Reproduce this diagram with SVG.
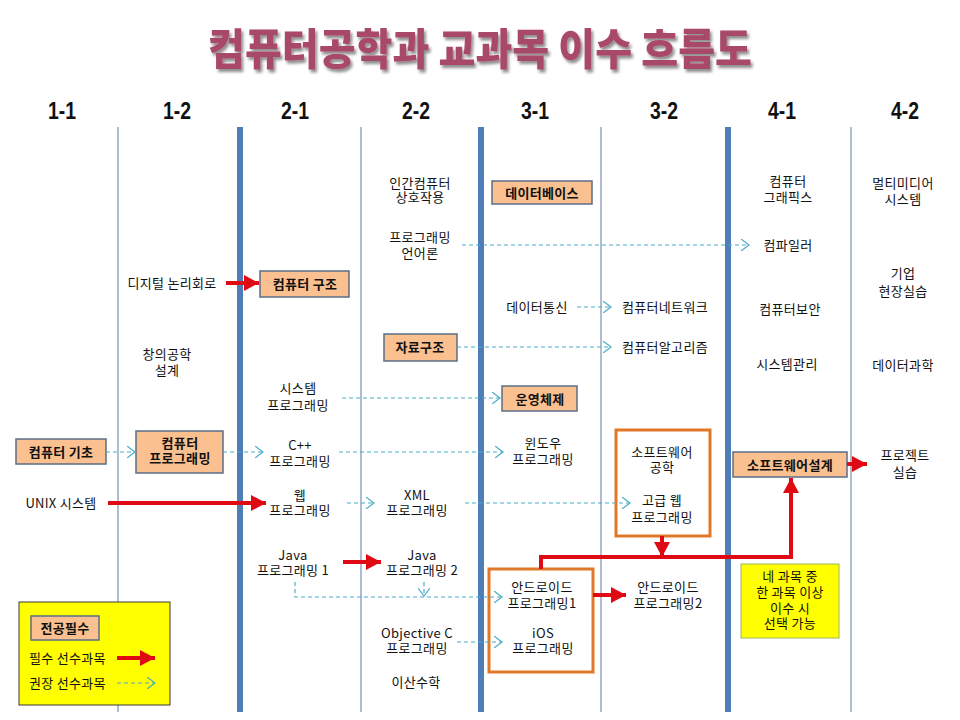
<svg xmlns="http://www.w3.org/2000/svg" width="960" height="720" viewBox="0 0 960 720">
<style>
.t{font-family:"Noto Sans CJK KR","Noto Sans",sans-serif;font-size:13px;letter-spacing:0.3px;text-anchor:middle;fill:#111}
.b{font-weight:bold}
.hd{font-family:"Liberation Sans Narrow","Liberation Sans",sans-serif;font-size:24px;font-weight:bold;text-anchor:middle;fill:#111}
.box{fill:#FAC090;stroke:#5B6E87;stroke-width:1.5}
.obox{fill:#FFFFFF;stroke:#E07828;stroke-width:3}
.thin{stroke:#5A7BA6;stroke-width:1}
.thick{stroke:#4F7DB8;stroke-width:6}
.red{fill:none;stroke:#E00A14;stroke-width:4}
.dash{fill:none;stroke:#4BACC6;stroke-width:1.2;stroke-dasharray:4 3}
</style>
<defs>
<marker id="ra" markerUnits="userSpaceOnUse" markerWidth="16" markerHeight="16" refX="15" refY="8" orient="auto">
<path d="M0,0 L15,8 L0,16 Z" fill="#E00A14"/>
</marker>
<marker id="da" markerUnits="userSpaceOnUse" markerWidth="10" markerHeight="12" refX="8" refY="6" orient="auto">
<path d="M0,0 L8,6 L0,12" fill="none" stroke="#4BACC6" stroke-width="1.2"/>
</marker>
<filter id="sh" x="-5%" y="-20%" width="110%" height="150%">
<feGaussianBlur in="SourceAlpha" stdDeviation="1.5"/>
<feOffset dx="2" dy="3" result="o"/>
<feComponentTransfer><feFuncA type="linear" slope="0.45"/></feComponentTransfer>
<feMerge><feMergeNode/><feMergeNode in="SourceGraphic"/></feMerge>
</filter>
</defs>
<rect width="960" height="720" fill="#FFFFFF"/>
<g id="title">
<text x="480" y="65" font-family="'Noto Sans CJK KR',sans-serif" font-size="43" font-weight="900" fill="#A8486A" text-anchor="middle" textLength="544" lengthAdjust="spacingAndGlyphs" filter="url(#sh)">컴퓨터공학과 교과목 이수 흐름도</text>
</g>
<g id="headers">
<text class="hd" x="62" y="119" textLength="28" lengthAdjust="spacingAndGlyphs">1-1</text>
<text class="hd" x="177" y="119" textLength="28" lengthAdjust="spacingAndGlyphs">1-2</text>
<text class="hd" x="295" y="119" textLength="28" lengthAdjust="spacingAndGlyphs">2-1</text>
<text class="hd" x="416" y="119" textLength="28" lengthAdjust="spacingAndGlyphs">2-2</text>
<text class="hd" x="535" y="119" textLength="28" lengthAdjust="spacingAndGlyphs">3-1</text>
<text class="hd" x="664" y="119" textLength="28" lengthAdjust="spacingAndGlyphs">3-2</text>
<text class="hd" x="782" y="119" textLength="28" lengthAdjust="spacingAndGlyphs">4-1</text>
<text class="hd" x="905" y="119" textLength="28" lengthAdjust="spacingAndGlyphs">4-2</text>
</g>
<g id="gridlines">
<line class="thin" x1="118" y1="127" x2="118" y2="712"/>
<line class="thick" x1="240" y1="127" x2="240" y2="712"/>
<line class="thin" x1="361" y1="127" x2="361" y2="712"/>
<line class="thick" x1="481" y1="127" x2="481" y2="712"/>
<line class="thin" x1="601" y1="127" x2="601" y2="712"/>
<line class="thick" x1="728" y1="127" x2="728" y2="712"/>
<line class="thin" x1="851" y1="127" x2="851" y2="712"/>
</g>
<g id="legend">
<rect x="19" y="602" width="151" height="103" fill="#FFFF00" stroke="#3A3A3A" stroke-width="1"/>
<rect class="box" x="31" y="616" width="68" height="24"/>
<text class="t b" x="65" y="632.5">전공필수</text>
<text class="t" x="29" y="663" style="text-anchor:start">필수 선수과목</text>
<text class="t" x="29" y="688" style="text-anchor:start">권장 선수과목</text>
<path class="red" d="M117,658 L155,658" marker-end="url(#ra)"/>
<path class="dash" d="M117,683 L155,683" marker-end="url(#da)"/>
</g>
<g id="n-computer-basics"><rect class="box" x="16" y="439" width="90" height="25"/><text class="t b" x="61" y="456.5">컴퓨터 기초</text></g>
<g id="n-unix"><text class="t" x="61" y="507.5">UNIX 시스템</text></g>
<g id="n-digital"><text class="t" x="172" y="287.5">디지털 논리회로</text></g>
<g id="n-creative"><text class="t" x="167" y="359"><tspan x="167">창의공학</tspan><tspan x="167" dy="16">설계</tspan></text></g>
<g id="n-comp-prog"><rect class="box" x="136" y="431" width="87" height="42"/><text class="t b" x="180" y="447.5"><tspan x="180">컴퓨터</tspan><tspan x="180" dy="15">프로그래밍</tspan></text></g>
<g id="n-comp-arch"><rect class="box" x="260" y="271" width="89" height="26"/><text class="t b" x="305" y="288.5">컴퓨터 구조</text></g>
<g id="n-sysprog"><text class="t" x="298" y="393"><tspan x="298">시스템</tspan><tspan x="298" dy="17">프로그래밍</tspan></text></g>
<g id="n-cpp"><text class="t" x="300" y="449.5"><tspan x="300">C++</tspan><tspan x="300" dy="16">프로그래밍</tspan></text></g>
<g id="n-web"><text class="t" x="300" y="499.5"><tspan x="300">웹</tspan><tspan x="300" dy="15">프로그래밍</tspan></text></g>
<g id="n-java1"><text class="t" x="293" y="559.5"><tspan x="293">Java</tspan><tspan x="293" dy="15">프로그래밍 1</tspan></text></g>
<g id="n-hci"><text class="t" x="420" y="187.5"><tspan x="420">인간컴퓨터</tspan><tspan x="420" dy="14.5">상호작용</tspan></text></g>
<g id="n-pl"><text class="t" x="420" y="241.5"><tspan x="420">프로그래밍</tspan><tspan x="420" dy="16">언어론</tspan></text></g>
<g id="n-ds"><rect class="box" x="384" y="334" width="73" height="27"/><text class="t b" x="420" y="352">자료구조</text></g>
<g id="n-xml"><text class="t" x="417" y="499.5"><tspan x="417">XML</tspan><tspan x="417" dy="15">프로그래밍</tspan></text></g>
<g id="n-java2"><text class="t" x="422" y="559.5"><tspan x="422">Java</tspan><tspan x="422" dy="15">프로그래밍 2</tspan></text></g>
<g id="n-objc"><text class="t" x="417" y="637.5"><tspan x="417">Objective C</tspan><tspan x="417" dy="15">프로그래밍</tspan></text></g>
<g id="n-discrete"><text class="t" x="416" y="686.5">이산수학</text></g>
<g id="n-db"><rect class="box" x="492" y="181" width="100" height="23"/><text class="t b" x="542" y="197.5">데이터베이스</text></g>
<g id="n-datacomm"><text class="t" x="537" y="311.5">데이터통신</text></g>
<g id="n-os"><rect class="box" x="502" y="386" width="75" height="25"/><text class="t b" x="540" y="403.5">운영체제</text></g>
<g id="n-windows"><text class="t" x="543" y="447.5"><tspan x="543">윈도우</tspan><tspan x="543" dy="16">프로그래밍</tspan></text></g>
<g id="n-mobile"><rect class="obox" x="489" y="569" width="104" height="103"/><text class="t" x="542" y="591.5"><tspan x="542">안드로이드</tspan><tspan x="542" dy="16">프로그래밍1</tspan></text><text class="t" x="543" y="637.5"><tspan x="543">iOS</tspan><tspan x="543" dy="15">프로그래밍</tspan></text></g>
<g id="n-network"><text class="t" x="665" y="311.5">컴퓨터네트워크</text></g>
<g id="n-algo"><text class="t" x="665" y="351.5">컴퓨터알고리즘</text></g>
<g id="n-se"><rect class="obox" x="616" y="430" width="94" height="106"/><text class="t" x="662" y="456.5"><tspan x="662">소프트웨어</tspan><tspan x="662" dy="15">공학</tspan></text><text class="t" x="662" y="504.5"><tspan x="662">고급 웹</tspan><tspan x="662" dy="17">프로그래밍</tspan></text></g>
<g id="n-android2"><text class="t" x="668" y="591.5"><tspan x="668">안드로이드</tspan><tspan x="668" dy="16">프로그래밍2</tspan></text></g>
<g id="n-graphics"><text class="t" x="788" y="185.5"><tspan x="788">컴퓨터</tspan><tspan x="788" dy="16">그래픽스</tspan></text></g>
<g id="n-compiler"><text class="t" x="788" y="249.5">컴파일러</text></g>
<g id="n-security"><text class="t" x="790" y="313.5">컴퓨터보안</text></g>
<g id="n-sysadmin"><text class="t" x="787" y="368.5">시스템관리</text></g>
<g id="n-swdesign"><rect class="box" x="733" y="452" width="114" height="25"/><text class="t b" x="790" y="469.5">소프트웨어설계</text></g>
<g id="n-note"><rect x="741" y="564" width="98" height="74" fill="#FFFF00" stroke="#9BB85A" stroke-width="1"/><text class="t" x="790" y="580.5"><tspan x="790">네 과목 중</tspan><tspan x="790" dy="16">한 과목 이상</tspan><tspan x="790" dy="16">이수 시</tspan><tspan x="790" dy="15">선택 가능</tspan></text></g>
<g id="n-multimedia"><text class="t" x="903" y="187.5"><tspan x="903">멀티미디어</tspan><tspan x="903" dy="16.5">시스템</tspan></text></g>
<g id="n-intern"><text class="t" x="903" y="278"><tspan x="903">기업</tspan><tspan x="903" dy="17.5">현장실습</tspan></text></g>
<g id="n-datasci"><text class="t" x="903" y="369.5">데이터과학</text></g>
<g id="n-project"><text class="t" x="905" y="459.5"><tspan x="905">프로젝트</tspan><tspan x="905" dy="17">실습</tspan></text></g>
<g id="connectors">
<path class="dash" d="M106,452 L135,452" marker-end="url(#da)"/>
<path class="dash" d="M223,452 L263,452" marker-end="url(#da)"/>
<path class="dash" d="M339,452 L503,452" marker-end="url(#da)"/>
<path class="dash" d="M347,503 L374,503" marker-end="url(#da)"/>
<path class="dash" d="M465,503 L630,503" marker-end="url(#da)"/>
<path class="dash" d="M295,582 L295,597 L502,597" marker-end="url(#da)"/>
<path class="dash" d="M424,582 L424,596" marker-end="url(#da)"/>
<path class="dash" d="M457,642 L502,642" marker-end="url(#da)"/>
<path class="dash" d="M342,398 L500,398" marker-end="url(#da)"/>
<path class="dash" d="M462,245 L749,245" marker-end="url(#da)"/>
<path class="dash" d="M577,307 L611,307" marker-end="url(#da)"/>
<path class="dash" d="M457,347 L611,347" marker-end="url(#da)"/>
<path class="red" d="M226,283 L259,283" marker-end="url(#ra)"/>
<path class="red" d="M108,503 L266,503" marker-end="url(#ra)"/>
<path class="red" d="M343,562 L381,562" marker-end="url(#ra)"/>
<path class="red" d="M662,536 L662,557" marker-end="url(#ra)"/>
<path class="red" d="M541,569 L541,557 L791,557 L791,478" marker-end="url(#ra)"/>
<path class="red" d="M593,595 L626,595" marker-end="url(#ra)"/>
<path class="red" d="M847,464 L867,464" marker-end="url(#ra)"/>
</g>
</svg>
